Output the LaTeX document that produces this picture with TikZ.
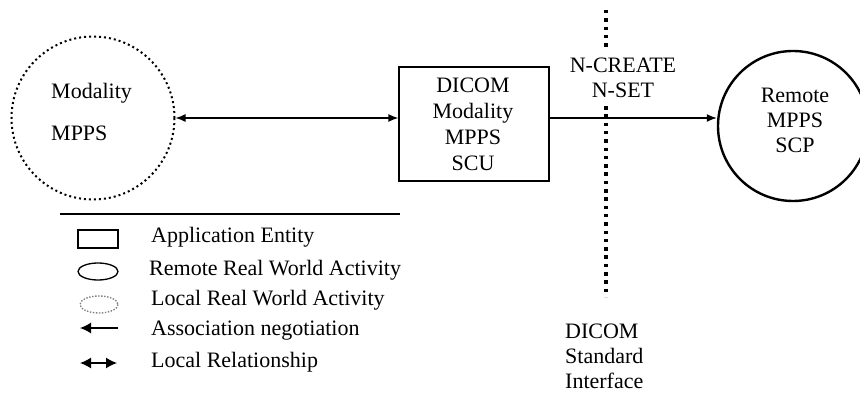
\documentclass[tikz,border=0pt]{standalone}
\usepackage{fontspec}
\setmainfont{Liberation Serif}
\usetikzlibrary{arrows.meta}

\begin{document}
\begin{tikzpicture}[x=1pt,y=-1pt,
		every node/.style={font=\fontsize{22}{25}\selectfont, inner sep=0pt},
		localact/.style={circle, draw, line width=2pt, dash pattern=on 2pt off 3pt},
		remoteact/.style={circle, draw, line width=2.4pt},
		aebox/.style={rectangle, draw, line width=1.3pt},
		relation/.style={line width=1.4pt, {Latex[length=10pt,width=8pt]}-{Latex[length=10pt,width=8pt]}},
		assoc/.style={line width=1.4pt, -{Latex[length=10pt,width=8pt]}},
		keytip/.style={line width=1.4pt, {Latex[length=11pt,width=11pt]}-{Latex[length=11pt,width=11pt]}},
		iface/.style={line width=3.5pt, dash pattern=on 3.5pt off 4.8pt}]
		\useasboundingbox (0,0) rectangle (860,393);
		% main picture
		\node[localact, minimum size=163pt] (modality) at (93,118) {};
		\node[anchor=west, align=left] (modtxt) at (51,112) {Modality\\[17pt]MPPS};
		\node[aebox, minimum width=150pt, minimum height=114pt] (scu) at (474,124) {};
		\node[align=center, font=\fontsize{22}{26}\selectfont] (scutxt) at (473,124) {DICOM\\Modality\\MPPS\\SCU};
		\node[remoteact, minimum size=150pt] (remote) at (793,126) {};
		\node[align=center] (remtxt) at (795,120) {Remote\\MPPS\\SCP};
		\draw[relation] (modality.east) -- (modality.east -| scu.west);
		\draw[assoc] (scu.east |- modality.east) -- (remote.west |- modality.east);
		% interface
		\coordinate (ifacetop) at (606,10);
		\coordinate (ifacebot) at (606,297);
		\node[align=center, inner ysep=8pt] (ops) at (623,78) {N-CREATE\\N-SET};
		\draw[iface] (ifacetop) -- (ifacetop |- ops.north);
		\draw[iface] (ifacebot |- ops.south) -- (ifacebot);
		\node[anchor=west, align=left] (stdif) at (565,356) {DICOM\\Standard\\Interface};
		% legend
		\draw[line width=1.2pt] (60,214) -- (400,214);
		\node[aebox, minimum width=40pt, minimum height=18pt] (keyae) at (98,239) {};
		\node[anchor=west] at (151,237) {Application Entity};
		\draw[line width=1.3pt] (98,271.5) ellipse (20 and 8.5);
		\node[anchor=west] at (149,270) {Remote Real World Activity};
		\draw[gray, line width=1.4pt, dash pattern=on 1.4pt off 1.6pt] (99,304.5) ellipse (19 and 8.5);
		\node[anchor=west] at (151,300) {Local Real World Activity};
		\coordinate (keya) at (118,328);
		\coordinate (keyb) at (80,328);
		\draw[keytip, -{Latex[length=11pt,width=11pt]}] (keya) -- (keyb);
		\node[anchor=west] at (151,331) {Association negotiation};
		\coordinate (keyc) at (80,363);
		\coordinate (keyd) at (117,363);
		\draw[keytip] (keyc) -- (keyd);
		\node[anchor=west] at (151,362) {Local Relationship};
	\end{tikzpicture}
\end{document}
